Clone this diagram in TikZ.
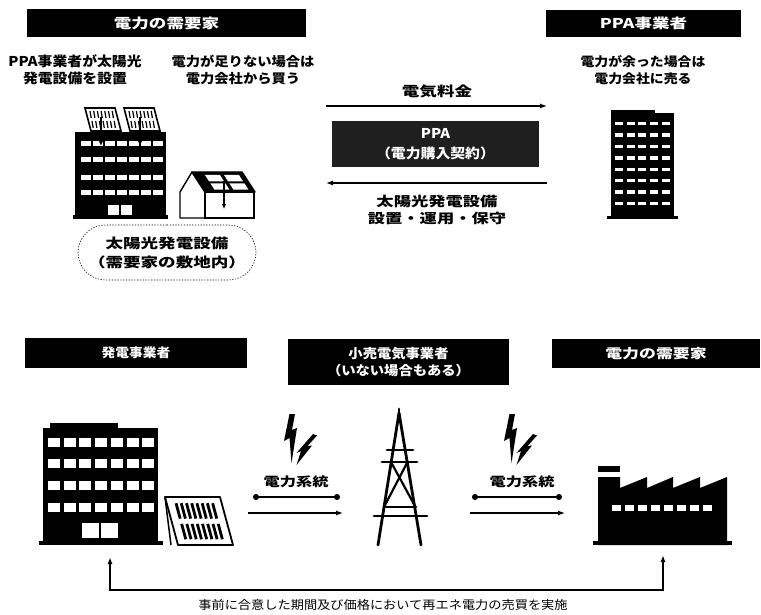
\documentclass[tikz,border=0pt]{standalone}
\usepackage{fontspec}
\usetikzlibrary{arrows.meta,shapes.misc}
\newfontfamily\jpn[FakeStretch=1.1]{Noto Sans CJK JP}
\newfontfamily\jpw[FakeStretch=1.3]{Noto Sans CJK JP}

\tikzset{
  hdr/.style={fill=black, text=white, inner sep=0pt},
  lbl/.style={inner sep=0pt, align=center},
  flow/.style={line width=1.2pt, -{Latex[length=7pt,width=5pt]}},
  grid/.style={line width=1.2pt, {Circle[length=6pt]}-{Circle[length=6pt]}},
  win/.style={fill=white},
  bolt/.style={fill=black},
}

\begin{document}
\begin{tikzpicture}[x=1pt,y=-1pt]
\useasboundingbox (0,0) rectangle (761,615);
\fill[white] (0,0) rectangle (761,615);

% ---------- upper half: on-site PPA ----------
\node[hdr, minimum width=279pt, minimum height=28pt, font=\jpw\bfseries\fontsize{13.5}{16}\selectfont]
  (hdrA) at (166.5,23) {電力の需要家};
\node[hdr, minimum width=195pt, minimum height=27pt, font=\jpw\bfseries\fontsize{13.5}{16}\selectfont]
  (hdrB) at (643.5,23.5) {PPA事業者};

\node[lbl, font=\jpn\bfseries\fontsize{13.5}{17}\selectfont] (noteA) at (75,70)
  {PPA事業者が太陽光\\発電設備を設置};
\node[lbl, font=\jpn\bfseries\fontsize{13}{17}\selectfont] (noteB) at (243,70)
  {電力が足りない場合は\\電力会社から買う};
\node[lbl, font=\jpn\bfseries\fontsize{12.6}{17}\selectfont] (noteC) at (643,70)
  {電力が余った場合は\\電力会社に売る};

% money and service flows
\coordinate (feeL) at (326,106);
\coordinate (feeR) at (547,106);
\draw[flow] (feeL) -- (feeR);
\node[lbl, font=\jpw\bfseries\fontsize{13.5}{16}\selectfont] (fee) at (437,91) {電気料金};

\node[fill=black!88, text=white, minimum width=207pt, minimum height=46pt, inner sep=0pt,
      align=center, font=\jpn\bfseries\fontsize{13.5}{20}\selectfont] (ppa) at (435.5,144)
  {PPA\\（電力購入契約）};

\coordinate (svcR) at (547,183);
\coordinate (svcL) at (326,183);
\draw[flow] (svcR) -- (svcL);
\node[lbl, font=\jpw\bfseries\fontsize{13.3}{17}\selectfont] (svc) at (437,210)
  {太陽光発電設備\\設置・運用・保守};

% customer's office building with roof panels
\fill (75,132) rectangle (166,218);
\fill (73,215) rectangle (168,219);
\foreach \r/\y in {0/141,1/157,2/175,3/190}
  \foreach \c in {0,...,6}
    \fill[win] ({81+12*\c},\y) rectangle ++(9.5,5.5);
\fill[win] (108,205) rectangle (119,215);
\fill[win] (121,205) rectangle (132,215);
\foreach \px in {85,124}{
  \filldraw[fill=white, line width=1.6pt] (\px,108) -- ({\px+30},108) -- ({\px+36},131) -- ({\px+6},131) -- cycle;
  \foreach \i in {0,...,6}{
    \draw[line width=1.2pt] ({\px+5+3.7*\i},111) -- ({\px+6.2+3.7*\i},118);
    \draw[line width=1.2pt] ({\px+7+3.7*\i},121) -- ({\px+8.2+3.7*\i},128);
  }
  \draw[line width=1.3pt, -{Latex[length=5pt,width=4.5pt]}] ({\px+16},117) -- ({\px+16},146);
}

% customer's house with roof panels
\draw[line width=1.4pt, line join=round] (180,218) -- (180,192) -- (192,172) -- (205,192) -- (205,218) -- cycle;
\draw[line width=1.4pt] (205,192) rectangle (254,218);
\filldraw[line width=1.4pt, line join=round] (192,172) -- (242,172) -- (255,192) -- (205,192) -- cycle;
\foreach \a/\b in {0.22/0.52,0.6/0.9}
  \foreach \c/\d in {0.15/0.47,0.57/0.88}
    \fill[win] ({192+50*\a+13*\c},{172+20*\c}) -- ({192+50*\b+13*\c},{172+20*\c})
      -- ({192+50*\b+13*\d},{172+20*\d}) -- ({192+50*\a+13*\d},{172+20*\d}) -- cycle;
\draw[line width=1.3pt, -{Latex[length=5pt,width=4.5pt]}] (224,181) -- (224,209);

% on-site area label
\node[draw, dash pattern=on 1.2pt off 1.6pt, line width=0.6pt, rounded rectangle,
      minimum width=178pt, minimum height=55pt, inner sep=0pt, align=center,
      font=\jpw\bfseries\fontsize{13.5}{19}\selectfont] (site) at (167,252.5)
  {太陽光発電設備\\（需要家の敷地内）};

% PPA provider's building
\fill (611,113) rectangle (674,218);
\fill (611,110) rectangle (655,113);
\fill (607,216) rectangle (678,219);
\foreach \r in {0,...,7}
  \foreach \c in {0,...,4}
    \fill[win] ({615+11.7*\c},{122+11.4*\r}) rectangle ++(8,3.5);

% ---------- lower half: off-site PPA ----------
\node[hdr, minimum width=222pt, minimum height=30pt, font=\jpn\bfseries\fontsize{12.5}{16}\selectfont]
  (hdrC) at (136,353) {発電事業者};
\node[hdr, minimum width=221pt, minimum height=46pt, align=center,
      font=\jpn\bfseries\fontsize{13}{17}\selectfont]
  (hdrD) at (398.5,362) {小売電気事業者\\（いない場合もある）};
\node[hdr, minimum width=208pt, minimum height=29pt, font=\jpw\bfseries\fontsize{13}{16}\selectfont]
  (hdrE) at (656,353.5) {電力の需要家};

% generator's building
\fill (43,428) rectangle (158,545);
\fill (50,423) rectangle (118,428);
\fill (39,541) rectangle (163,545);
\foreach \y in {437.5,458.5,480.5,502.5}
  \foreach \c in {0,...,6}
    \fill[win] ({48+15.7*\c},\y) rectangle ++(12,9);
\fill[win] (82,523) rectangle (99,538);
\fill[win] (101,523) rectangle (118,538);

% ground-mounted solar panel
\draw[line width=1.5pt] (165,497) -- (171,545);
\filldraw[fill=white, line width=1.8pt, line join=round]
  (165,497) -- (220,497) -- (233,545) -- (178,545) -- cycle;
\foreach \i in {0,...,7}{
  \draw[line width=2.8pt] ({165+55*(0.17+0.095*\i)+13*0.13},{497+48*0.13}) -- ({165+55*(0.17+0.095*\i)+13*0.45},{497+48*0.45});
  \draw[line width=2.8pt] ({165+55*(0.17+0.095*\i)+13*0.56},{497+48*0.56}) -- ({165+55*(0.17+0.095*\i)+13*0.88},{497+48*0.88});
}

% lightning symbols
\foreach \dx in {0,220}{
  \begin{scope}[shift={(\dx,0)}]
    \fill[bolt] (289.5,414) -- (295,414) -- (292,430) -- (297,428) -- (291.5,463) -- (289.5,438) -- (284,441) -- cycle;
    \fill[bolt] (313,434) -- (317,435.5) -- (307.5,446) -- (312,445.5) -- (296.5,465) -- (301,451) -- (296.5,453) -- cycle;
  \end{scope}
}

% transmission tower
\begin{scope}[line width=2.8pt, line cap=round]
  \draw (399,409) -- (399,420);
  \draw (399,413) -- (378,545);
  \draw (399,413) -- (421,545);
  \draw (387,450) -- (413,450);
  \draw (382,462) -- (417,462);
  \draw (384,507) -- (416,507);
  \draw (374,516) -- (427,516);
  \draw[line width=2.2pt] (391,462) -- (415.5,507);
  \draw[line width=2.2pt] (407.5,462) -- (384,507);
\end{scope}

% grid labels and flows
\coordinate (gA1) at (253,497);  \coordinate (gA2) at (340,497);
\coordinate (eA1) at (248,513);  \coordinate (eA2) at (343,513);
\coordinate (gB1) at (472,497);  \coordinate (gB2) at (562,497);
\coordinate (eB1) at (470,513);  \coordinate (eB2) at (565,513);
\draw[grid] (gA1) -- (gA2);
\draw[flow] (eA1) -- (eA2);
\draw[grid] (gB1) -- (gB2);
\draw[flow] (eB1) -- (eB2);
\node[lbl, font=\jpw\bfseries\fontsize{12.5}{16}\selectfont] (gridA) at (296,482) {電力系統};
\node[lbl, font=\jpw\bfseries\fontsize{12.5}{16}\selectfont] (gridB) at (522,482) {電力系統};

% customer's factory
\fill (598,466) rectangle (620,472);
\fill (598,477) -- (620,477) -- (620,488) -- (647,477) -- (647,488) -- (673,477) -- (673,488)
  -- (700,477) -- (700,488) -- (727,477) -- (727,545) -- (598,545) -- cycle;
\fill (593,541) rectangle (732,545);
\foreach \i in {0,...,7}
  \fill[win] ({612+13*\i},505) rectangle ++(9,6);

% contract bracket
\coordinate (genUp) at (110,557);
\coordinate (genLow) at (110,590);
\coordinate (cusLow) at (663,590);
\coordinate (cusUp) at (663,555);
\draw[line width=1.4pt, {Latex[length=7pt,width=5pt]}-{Latex[length=7pt,width=5pt]}]
  (genUp) -- (genLow) -- (cusLow) -- (cusUp);
\node[lbl, font=\jpn\fontsize{12}{15}\selectfont] (deal) at (383,605)
  {事前に合意した期間及び価格において再エネ電力の売買を実施};
\end{tikzpicture}
\end{document}
